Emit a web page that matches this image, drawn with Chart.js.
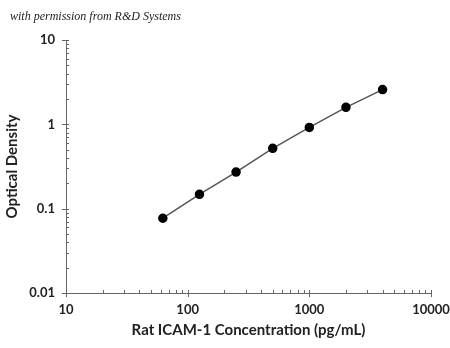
<!DOCTYPE html>
<html>
<head>
<meta charset="utf-8">
<script src="https://cdn.jsdelivr.net/npm/chart.js@4/dist/chart.umd.min.js"></script>
<style>
  html, body { margin: 0; padding: 0; background: #fff; }
  #wrap { position: relative; width: 450px; height: 348px; }
  #note {
    position: absolute; left: 10px; top: 9px;
    font: italic 12px "Liberation Serif", serif; color: #222;
  }
</style>
</head>
<body>
<div id="wrap">
  <canvas id="chart" width="450" height="348"></canvas>
  <div id="note">with permission from R&amp;D Systems</div>
</div>
<script>
// Rat ICAM-1 standard curve (log-log)
const concentrations = [62.5, 125, 250, 500, 1000, 2000, 4000];
const opticalDensity = [0.077, 0.148, 0.272, 0.52, 0.92, 1.59, 2.58];
const xTickValues = [10, 100, 1000, 10000];
const yTickValues = [0.01, 0.1, 1, 10];

const AXIS = '#666';
const LINE = '#555';

// small inside ticks for every minor value, bigger outside ticks for decades
const tickMarks = {
    id: 'tickMarks',
    afterDraw(chart) {
        const { ctx, scales: { x, y }, chartArea } = chart;
        ctx.save();
        ctx.strokeStyle = AXIS;
        ctx.lineWidth = 1;
        ctx.beginPath();
        for (let d = 10; d < 10000; d *= 10) {
            for (let m = 1; m <= 10; m++) {
                const px = Math.round(x.getPixelForValue(d * m)) + 0.5;
                const major = m === 1 || m === 10;
                ctx.moveTo(px, chartArea.bottom + (major ? 4 : 0));
                ctx.lineTo(px, chartArea.bottom - 3);
            }
        }
        for (let d = 0.01; d < 10; d *= 10) {
            for (let m = 1; m <= 10; m++) {
                const py = Math.round(y.getPixelForValue(d * m)) + 0.5;
                const major = m === 1 || m === 10;
                ctx.moveTo(chartArea.left - (major ? 4 : 0), py);
                ctx.lineTo(chartArea.left + 3, py);
            }
        }
        ctx.stroke();
        ctx.restore();
    },
};

const fmt = (v) => String(Number(v.toPrecision(3)));

new Chart(document.getElementById('chart'), {
    type: 'line',
    data: {
        datasets: [{
            data: concentrations.map((c, i) => ({ x: c, y: opticalDensity[i] })),
            borderColor: LINE,
            borderWidth: 1.5,
            pointBackgroundColor: '#000',
            pointBorderColor: '#000',
            pointRadius: 4,
            tension: 0,
        }],
    },
    options: {
        responsive: false,
        animation: false,
        events: [],
        layout: { padding: { left: 0, top: 40, right: 19, bottom: 0 } },
        plugins: { legend: { display: false }, tooltip: { enabled: false } },
        scales: {
            x: {
                type: 'logarithmic',
                min: 10,
                max: 10000,
                grid: { display: false, drawTicks: false },
                border: { display: true, color: AXIS },
                afterBuildTicks: (s) => { s.ticks = xTickValues.map((v) => ({ value: v })); },
                afterFit: (s) => { s.height = 55; s.paddingLeft = 0; s.paddingRight = 0; },
                ticks: {
                    autoSkip: false, maxRotation: 0, padding: 9, color: '#222',
                    font: { family: 'Lato', weight: 'bold', size: 13 },
                    callback: (v) => fmt(v),
                },
                title: {
                    display: true,
                    text: 'Rat ICAM-1 Concentration (pg/mL)',
                    color: '#222',
                    font: { family: 'Lato', weight: 'bold', size: 15 },
                    padding: { top: 4, bottom: 9 },
                },
            },
            y: {
                type: 'logarithmic',
                min: 0.01,
                max: 10,
                grid: { display: false, drawTicks: false },
                border: { display: true, color: AXIS },
                afterBuildTicks: (s) => { s.ticks = yTickValues.map((v) => ({ value: v })); },
                afterFit: (s) => { s.width = 66; s.paddingTop = 0; s.paddingBottom = 0; },
                ticks: {
                    autoSkip: false, padding: 11, color: '#222',
                    font: { family: 'Lato', weight: 'bold', size: 13 },
                    callback: (v) => fmt(v),
                },
                title: {
                    display: true,
                    text: 'Optical Density',
                    color: '#222',
                    font: { family: 'Lato', weight: 'bold', size: 15 },
                    padding: { top: 3, bottom: 0 },
                },
            },
        },
    },
    plugins: [tickMarks],
});
</script>
</body>
</html>
